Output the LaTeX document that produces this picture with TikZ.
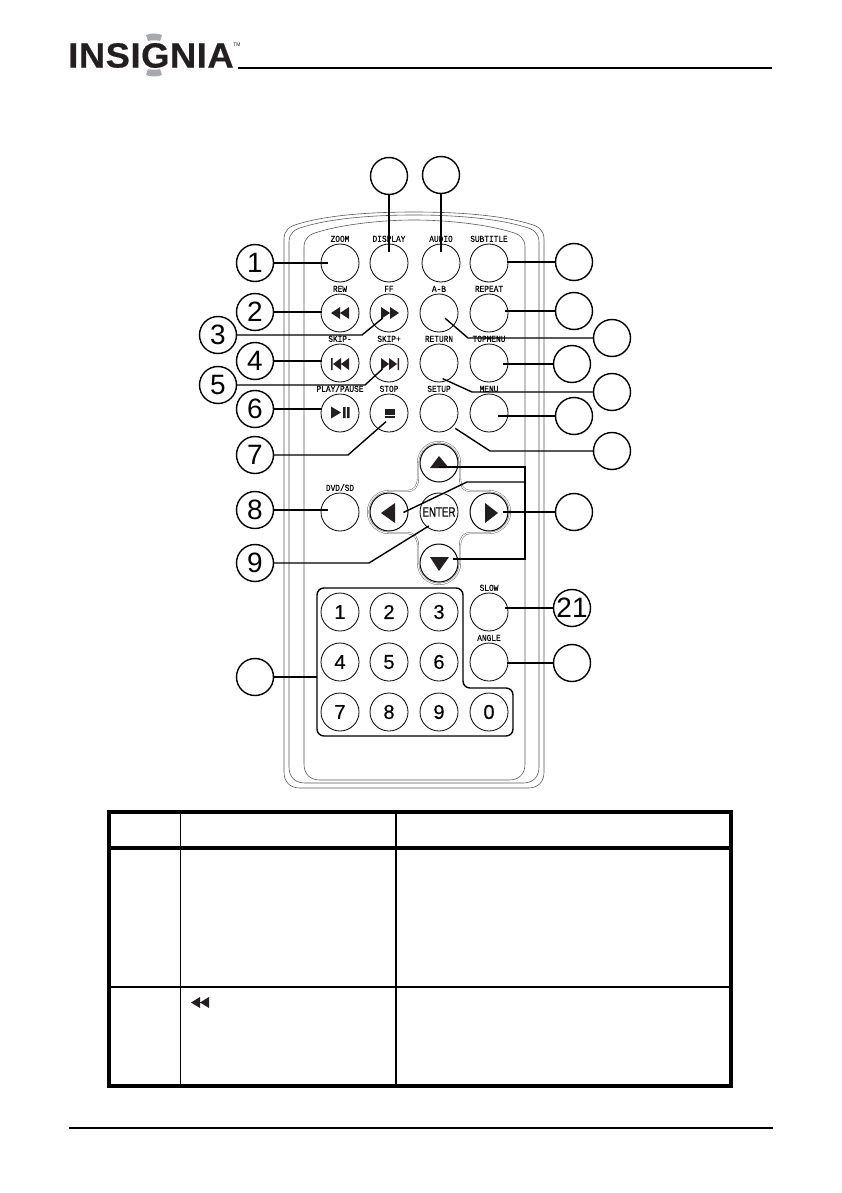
\documentclass[tikz,border=0pt]{standalone}
\usepackage{fontspec}
\setmainfont{Liberation Sans}
\newfontfamily\btnfont[FakeStretch=0.85,FakeBold=0.25]{Liberation Mono}
\newfontfamily\enterfont[FakeStretch=0.72,FakeBold=0.5]{Liberation Sans}
\newfontfamily\keyfont[FakeBold=0.3]{Liberation Sans}
\newfontfamily\logofont[FakeStretch=1.04,LetterSpace=1.5,FakeBold=0.4]{Liberation Sans Bold}
\definecolor{ink}{HTML}{231F20}
\definecolor{capgrey}{HTML}{A7A9AC}
\tikzset{
	btn/.style={circle,draw,line width=.8pt,minimum size=38pt,inner sep=0pt,font=\keyfont\fontsize{20}{20}\selectfont},
	btntext/.style={inner sep=0pt,text height=6pt,text depth=0pt,font=\btnfont\fontsize{9.2}{9}\selectfont},
	callout/.style={circle,draw,line width=1.4pt,minimum size=37pt,inner sep=0pt,font=\fontsize{28}{28}\selectfont},
	lead/.style={line width=1.4pt},
	shell/.style={line width=.6pt,black!65},
}
\begin{document}
\begin{tikzpicture}[x=1pt,y=-1pt]
	\useasboundingbox (0,0) rectangle (841,1193);
	% page head and foot
	\node[font=\logofont\fontsize{35}{35}\selectfont,text=ink,inner sep=0pt] (logo) at (151,55.5) {INSIGNIA};
	\node[font=\fontsize{5}{5}\selectfont,text=ink,inner sep=0pt] (tm) at (237,45) {TM};
	\fill[capgrey] (146,35) .. controls (150,33) and (158,33) .. (162,35) -- (160,41) .. controls (157,40) and (151,40) .. (148,41) -- cycle;
	\fill[capgrey] (146,75) .. controls (150,77) and (158,77) .. (162,75) -- (160,69) .. controls (157,70) and (151,70) .. (148,69) -- cycle;
	\draw[line width=2pt] (238,68) -- (772,68);
	\draw[line width=2pt] (69,1128) -- (773,1128);
	% remote shell
	\foreach \xl/\xr/\yt/\yb in {284/544/212/788,289/539/215/783,304/525/220/780}
		\draw[shell] (\xl,\yb-16) -- (\xl,\yt+27) .. controls (\xl,\yt+18) and (\xl+6,\yt+14) .. (\xl+14,\yt+12) .. controls (\xl+40,\yt+4) and (\xl+80,\yt) .. (414,\yt) .. controls (\xr-80,\yt) and (\xr-40,\yt+4) .. (\xr-14,\yt+12) .. controls (\xr-6,\yt+14) and (\xr,\yt+18) .. (\xr,\yt+27) -- (\xr,\yb-16) .. controls (\xr,\yb-6) and (\xr-6,\yb) .. (\xr-16,\yb) -- (\xl+16,\yb) .. controls (\xl+6,\yb) and (\xl,\yb-6) .. (\xl,\yb-16) -- cycle;
	% cross round the arrow keys
	\draw[line width=.4pt,black!70,double,double distance=1.1pt] (418,463) arc (180:360:21) -- (460,478) .. controls (460,486) and (464,491) .. (470,491) -- (489,491) arc (270:450:21) -- (470,533) .. controls (464,533) and (460,538) .. (460,546) -- (460,563) arc (0:180:21) -- (418,546) .. controls (418,538) and (414,533) .. (408,533) -- (389,533) arc (90:270:21) -- (408,491) .. controls (414,491) and (418,486) .. (418,478) -- cycle;
	\draw[line width=1.4pt,rounded corners=7pt] (317,588) -- (463,588) -- (463,688) -- (513,688) -- (513,736) -- (317,736) -- cycle;
	% buttons with a printed name
	\foreach \nm/\bx/\by/\txt in {zoombtn/340/263/ZOOM,displaybtn/389/263/DISPLAY,audiobtn/441/263/AUDIO,subtitlebtn/489/263/SUBTITLE,
		rewbtn/340/313/REW,ffbtn/389/313/FF,abbtn/439/313/A-B,repeatbtn/489/313/REPEAT,
		skipbackbtn/340/363/SKIP-,skipnextbtn/389/363/SKIP+,returnbtn/439/363/RETURN,topmenubtn/489/363/TOPMENU,
		playbtn/340/413/{PLAY/PAUSE},stopbtn/389/413/STOP,setupbtn/439/413/SETUP,menubtn/489/413/MENU,
		dvdbtn/340/512/{DVD/SD},slowbtn/489/612/SLOW,anglebtn/489/662/ANGLE}
		\node[btn,label={[btntext,label distance=1.5pt]above:\txt}] (\nm) at (\bx,\by) {};
	% arrow keys and enter
	\node[btn,line width=1pt] (upbtn) at (439,463) {};
	\node[btn,line width=1pt] (downbtn) at (439,563) {};
	\node[btn,line width=1pt] (leftbtn) at (389,512) {};
	\node[btn,line width=1pt] (rightbtn) at (489,512) {};
	\node[btn,font=\enterfont\fontsize{13.5}{13}\selectfont] (enterbtn) at (439,512) {ENTER};
	% number keys
	\foreach \nm/\bx/\by in {1/340/612,2/389/612,3/439/612,4/340/662,5/389/662,6/439/662,7/340/712,8/389/712,9/439/712,0/489/712}
		\node[btn] (key\nm) at (\bx,\by) {\nm};
	% key symbols
	\fill[ink] (331,313) -- (340,307) -- (340,319) -- cycle (340,313) -- (349,307) -- (349,319) -- cycle;
	\fill[ink] (399,313) -- (390,307) -- (390,319) -- cycle (390,313) -- (381,307) -- (381,319) -- cycle;
	\fill[ink] (331,358) rectangle (332.5,370) (333,364) -- (341,358) -- (341,370) -- cycle (341,364) -- (349,358) -- (349,370) -- cycle;
	\fill[ink] (399,358) rectangle (397.5,370) (397,364) -- (389,358) -- (389,370) -- cycle (389,364) -- (381,358) -- (381,370) -- cycle;
	\fill[ink] (331,406.5) -- (341,412.5) -- (331,418.5) -- cycle (343,407) rectangle (345.5,418) (347,407) rectangle (349.5,418);
	\fill[ink] (385,409) rectangle (395,418);
	\draw[white,line width=.7pt] (385,415) -- (395,415);
	\fill[ink] (439,456) -- (449,468) -- (430,468) -- cycle;
	\fill[ink] (439,571) -- (449,557) -- (430,557) -- cycle;
	\fill[ink] (381,513) -- (395,503) -- (395,523) -- cycle;
	\fill[ink] (498,513) -- (485,503) -- (485,523) -- cycle;
	% callouts
	\foreach \nm/\px/\py/\txt in {c1/255/263/1,c2/255/312/2,c3/218/335/3,c4/255/361/4,c5/218/385/5,c6/255/409/6,c7/255/455/7,c8/255/510/8,c9/255/563/9,
		cpad/255/677/,cdisplay/389/176/,caudio/441/175/,csubtitle/574/262/,crepeat/574/311/,cab/612/338/,ctopmenu/572/364/,creturn/612/392/,
		cmenu/574/416/,csetup/612/451/,cright/574/512/,cslow/572/608/21,cangle/572/663/}
		\node[callout] (\nm) at (\px,\py) {\txt};
	% bends in the leads
	\coordinate (k3) at (362,335);
	\coordinate (k5) at (365,385);
	\coordinate (k7) at (348,455);
	\coordinate (k9) at (369,563);
	\coordinate (kab) at (468,338);
	\coordinate (kreturn) at (472,392);
	\coordinate (ksetup) at (490,451);
	\coordinate (ktop) at (525,467);
	\coordinate (kmid) at (525,482);
	\coordinate (kleft) at (467,482);
	\coordinate (kbot) at (525,559);
	\coordinate (padedge) at (317,677);
	\draw[lead,shorten >=12pt] (c1) -- (c1 -| zoombtn);
	\draw[lead,shorten >=18pt] (c2) -- (c2 -| rewbtn);
	\draw[lead,shorten >=8pt] (c3) -- (k3) -- (ffbtn.center);
	\draw[lead,shorten >=18pt] (c4) -- (c4 -| skipbackbtn);
	\draw[lead,shorten >=9pt] (c5) -- (k5) -- (skipnextbtn.center);
	\draw[lead,shorten >=18pt] (c6) -- (c6 -| playbtn);
	\draw[lead,shorten >=4pt] (c7) -- (k7) -- ([yshift=-6pt]stopbtn.center);
	\draw[lead,shorten >=12pt] (c8) -- (c8 -| dvdbtn);
	\draw[lead,shorten >=12pt] (c9) -- (k9) -- ([yshift=-7.6pt]enterbtn.center);
	\draw[lead] (cpad) -- (padedge);
	\draw[lead,shorten >=11pt] (cdisplay) -- (cdisplay |- displaybtn);
	\draw[lead,shorten >=11pt] (caudio) -- (caudio |- audiobtn);
	\draw[lead,shorten >=18pt] (csubtitle) -- (csubtitle -| subtitlebtn);
	\draw[lead,shorten >=16pt] (crepeat) -- (crepeat -| repeatbtn);
	\draw[lead,shorten >=8pt] (cab) -- (kab) -- (abbtn.center);
	\draw[lead,shorten >=14pt] (ctopmenu) -- (ctopmenu -| topmenubtn);
	\draw[lead,shorten >=4pt] (creturn) -- (kreturn) -- ([yshift=-14pt]returnbtn.center);
	\draw[lead,shorten >=9pt] (cmenu) -- (cmenu -| menubtn);
	\draw[lead,shorten >=3pt] (csetup) -- (ksetup) -- (setupbtn.-45);
	\draw[lead,shorten >=14pt] (cright) -- (cright -| rightbtn);
	\draw[lead,shorten >=14pt] (ktop -| upbtn) -- (ktop) -- (kbot) -- (kbot -| downbtn);
	\draw[lead,shorten <=16pt] ([yshift=-7.4pt]leftbtn.center) -- (kleft) -- (kmid);
	\draw[lead,shorten >=16pt] (cslow) -- (cslow -| slowbtn);
	\draw[lead,shorten >=18pt] (cangle) -- (cangle -| anglebtn);
	% table
	\draw[line width=4pt] (109,812) rectangle (731,1086);
	\draw[line width=4pt] (109,848) -- (731,848);
	\draw[line width=1.2pt] (109,987) -- (731,987);
	\draw[line width=1.2pt] (180.5,812) -- (180.5,1086);
	\draw[line width=1.2pt] (396,812) -- (396,1086);
	\fill[ink] (191,1002.5) -- (200,997) -- (200,1008) -- cycle (200,1002.5) -- (209,997) -- (209,1008) -- cycle;
\end{tikzpicture}
\end{document}
